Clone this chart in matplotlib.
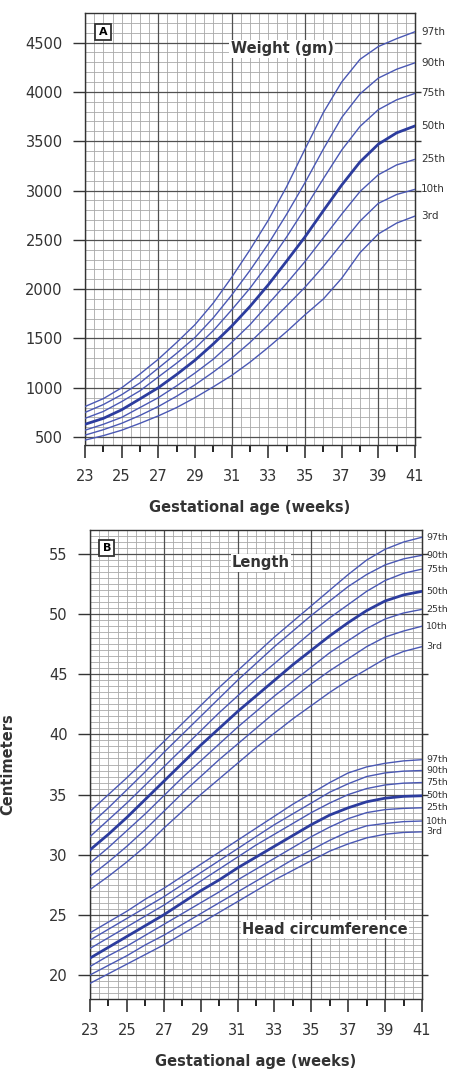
import numpy as np
import matplotlib.pyplot as plt
import matplotlib.transforms as mtransforms

weeks = list(range(23, 42))
pct_labels = ["3rd", "10th", "25th", "50th", "75th", "90th", "97th"]

# birth weight (gm) by gestational week
weight_p3 = [470, 515, 570, 640, 715, 800, 900, 1010, 1125, 1260, 1410, 1570, 1740, 1900, 2110, 2370, 2560, 2670, 2741]
weight_p10 = [520, 575, 640, 720, 810, 915, 1030, 1160, 1300, 1460, 1640, 1830, 2020, 2230, 2460, 2690, 2870, 2960, 3012]
weight_p25 = [570, 630, 700, 800, 900, 1020, 1150, 1290, 1460, 1640, 1850, 2060, 2280, 2520, 2760, 2990, 3160, 3260, 3316]
weight_p50 = [630, 690, 777, 888, 1001, 1135, 1280, 1445, 1625, 1825, 2045, 2285, 2530, 2795, 3055, 3290, 3470, 3585, 3655]
weight_p75 = [690, 760, 860, 970, 1110, 1250, 1400, 1580, 1790, 2010, 2260, 2530, 2820, 3120, 3410, 3650, 3820, 3920, 3985]
weight_p90 = [750, 830, 930, 1050, 1200, 1350, 1510, 1710, 1940, 2190, 2460, 2760, 3080, 3420, 3740, 3980, 4140, 4230, 4295]
weight_p97 = [810, 890, 1000, 1140, 1290, 1460, 1640, 1860, 2120, 2400, 2700, 3040, 3420, 3790, 4100, 4330, 4460, 4540, 4610]

# length (cm)
length_p3 = [27.1, 28.2, 29.4, 30.7, 32.2, 33.6, 35.0, 36.3, 37.6, 38.9, 40.1, 41.3, 42.4, 43.5, 44.5, 45.4, 46.3, 46.9, 47.3]
length_p10 = [28.2, 29.4, 30.7, 32.1, 33.6, 35.1, 36.5, 37.9, 39.2, 40.5, 41.8, 43.0, 44.2, 45.3, 46.3, 47.3, 48.1, 48.6, 49.0]
length_p25 = [29.3, 30.6, 32.0, 33.4, 34.9, 36.4, 37.8, 39.2, 40.6, 41.9, 43.2, 44.4, 45.6, 46.8, 47.8, 48.8, 49.6, 50.1, 50.4]
length_p50 = [30.4, 31.7, 33.1, 34.6, 36.1, 37.6, 39.1, 40.5, 41.9, 43.2, 44.5, 45.8, 47.0, 48.2, 49.3, 50.3, 51.1, 51.6, 51.9]
length_p75 = [31.5, 32.9, 34.3, 35.8, 37.3, 38.8, 40.3, 41.8, 43.2, 44.6, 45.9, 47.2, 48.5, 49.7, 50.8, 51.9, 52.8, 53.4, 53.75]
length_p90 = [32.5, 33.9, 35.4, 36.9, 38.5, 40.0, 41.5, 43.0, 44.5, 45.9, 47.3, 48.6, 49.9, 51.1, 52.3, 53.3, 54.1, 54.6, 54.9]
length_p97 = [33.6, 35.0, 36.4, 37.9, 39.4, 40.9, 42.4, 43.9, 45.3, 46.7, 48.1, 49.4, 50.7, 52.0, 53.3, 54.5, 55.4, 56.0, 56.4]

# head circumference (cm)
head_p3 = [19.3, 20.1, 20.9, 21.7, 22.5, 23.4, 24.3, 25.2, 26.1, 27.0, 27.9, 28.7, 29.5, 30.3, 30.9, 31.4, 31.7, 31.85, 31.9]
head_p10 = [20.0, 20.8, 21.6, 22.5, 23.3, 24.2, 25.1, 26.0, 26.9, 27.8, 28.7, 29.6, 30.4, 31.2, 31.9, 32.4, 32.6, 32.75, 32.8]
head_p25 = [20.7, 21.6, 22.4, 23.3, 24.2, 25.1, 26.0, 26.9, 27.9, 28.8, 29.7, 30.6, 31.5, 32.3, 33.0, 33.5, 33.75, 33.85, 33.9]
head_p50 = [21.4, 22.3, 23.2, 24.1, 25.0, 26.0, 27.0, 27.9, 28.9, 29.8, 30.7, 31.6, 32.5, 33.3, 33.9, 34.4, 34.7, 34.85, 34.9]
head_p75 = [22.2, 23.1, 24.0, 24.9, 25.8, 26.8, 27.8, 28.8, 29.8, 30.8, 31.7, 32.6, 33.5, 34.3, 35.0, 35.5, 35.8, 35.95, 36.0]
head_p90 = [22.9, 23.8, 24.7, 25.6, 26.5, 27.5, 28.5, 29.5, 30.5, 31.5, 32.5, 33.4, 34.3, 35.2, 35.9, 36.5, 36.8, 36.95, 37.0]
head_p97 = [23.5, 24.4, 25.3, 26.3, 27.2, 28.2, 29.2, 30.2, 31.2, 32.2, 33.2, 34.2, 35.1, 36.0, 36.8, 37.3, 37.6, 37.8, 37.9]

weight = [weight_p3, weight_p10, weight_p25, weight_p50, weight_p75, weight_p90, weight_p97]
length = [length_p3, length_p10, length_p25, length_p50, length_p75, length_p90, length_p97]
head = [head_p3, head_p10, head_p25, head_p50, head_p75, head_p90, head_p97]

line_color = '#4a58b4'
median_color = '#2c3c9e'
text_color = '#333333'
plt.rcParams['font.family'] = 'DejaVu Sans'


def draw_grid(ax, ymin, ymax, ystep_minor, ystep_major):
    # graph paper background
    ax.vlines(np.arange(23, 41.01, 0.5), ymin, ymax, color='#a8a8a8', lw=0.6, zorder=1)
    ax.hlines(np.arange(ymin - ymin % ystep_minor, ymax + 0.01, ystep_minor), 23, 41,
              color='#a8a8a8', lw=0.6, zorder=1)
    ax.vlines(np.arange(23, 41.01, 4), ymin, ymax, color='#505050', lw=0.9, zorder=1.5)
    ax.hlines(np.arange(ymin - ymin % ystep_major, ymax + 0.01, ystep_major), 23, 41,
              color='#505050', lw=0.9, zorder=1.5)


def draw_curves(ax, series, labels_x, fs):
    trans = mtransforms.blended_transform_factory(ax.transAxes, ax.transData)
    for lab, vals in zip(pct_labels, series):
        if lab == "50th":
            ax.plot(weeks, vals, color=median_color, lw=2.0, zorder=3)
        else:
            ax.plot(weeks, vals, color=line_color, lw=1.0, zorder=3)
        ax.text(labels_x, vals[-1], lab, transform=trans, fontsize=fs,
                color=text_color, va='center', ha='left', clip_on=False)


def style_axes(ax, yticks):
    ax.set_xlim(23, 41)
    ax.set_xticks(range(23, 42, 2))
    ax.set_xticks(range(24, 41, 2), minor=True)
    ax.set_yticks(yticks)
    ax.tick_params(axis='x', which='major', direction='out', length=9, width=1.2,
                   pad=8, labelsize=10.5, colors=text_color, top=False)
    ax.tick_params(axis='x', which='minor', direction='out', length=5, width=1.2, top=False)
    ax.tick_params(axis='y', which='major', direction='out', length=9, width=1.0,
                   pad=7, labelsize=10.5, colors=text_color, right=False)
    ax.tick_params(axis='y', which='minor', left=False, right=False)
    for sp in ax.spines.values():
        sp.set_color('#333333')
        sp.set_linewidth(1.0)
    # shorter ticks on the right edge
    sec = ax.secondary_yaxis('right')
    sec.set_yticks(yticks)
    sec.set_yticklabels([])
    sec.tick_params(direction='out', length=4.5, width=1.0, colors='#333333')
    sec.spines['right'].set_color('#333333')
    ax.set_xlabel('Gestational age (weeks)', fontsize=10.5, fontweight='bold',
                  color=text_color, labelpad=12)


fig = plt.figure(figsize=(4.52, 10.72), dpi=100)

# panel A: weight
ax1 = fig.add_axes([85 / 452, 1 - 445 / 1072, 330 / 452, 432 / 1072])
ax1.set_ylim(420, 4800)
draw_grid(ax1, 420, 4800, 100, 500)
draw_curves(ax1, weight, 1.018, 7.5)
style_axes(ax1, list(range(500, 4501, 500)))
ax1.text(0.0545, 0.956, 'A', transform=ax1.transAxes, fontsize=8, fontweight='bold',
         ha='center', va='center', zorder=5,
         bbox=dict(boxstyle='square,pad=0.3', fc='white', ec='#333333', lw=1.3))
ax1.text(0.597, 0.917, 'Weight (gm)', transform=ax1.transAxes, fontsize=10.5,
         fontweight='bold', color=text_color, ha='center', va='center', zorder=4,
         bbox=dict(boxstyle='square,pad=0.1', fc='white', ec='none'))

# panel B: length and head circumference
ax2 = fig.add_axes([90 / 452, 1 - 999 / 1072, 332 / 452, 469 / 1072])
ax2.set_ylim(18, 57)
draw_grid(ax2, 18, 57, 0.5, 5)
draw_curves(ax2, length, 1.012, 6.8)
draw_curves(ax2, head, 1.012, 6.8)
style_axes(ax2, list(range(20, 56, 5)))
ax2.set_ylabel('Centimeters', fontsize=10.5, fontweight='bold', color=text_color)
ax2.yaxis.set_label_coords(-0.226, 0.5)
ax2.text(0.051, 0.9616, 'B', transform=ax2.transAxes, fontsize=8, fontweight='bold',
         ha='center', va='center', zorder=5,
         bbox=dict(boxstyle='square,pad=0.3', fc='white', ec='#333333', lw=1.3))
ax2.text(0.515, 0.93, 'Length', transform=ax2.transAxes, fontsize=10.5,
         fontweight='bold', color=text_color, ha='center', va='center', zorder=4,
         bbox=dict(boxstyle='square,pad=0.1', fc='white', ec='none'))
ax2.text(0.708, 0.149, 'Head circumference', transform=ax2.transAxes, fontsize=10.5,
         fontweight='bold', color=text_color, ha='center', va='center', zorder=4,
         bbox=dict(boxstyle='square,pad=0.1', fc='white', ec='none'))

fig.savefig('out.png', dpi=100)
